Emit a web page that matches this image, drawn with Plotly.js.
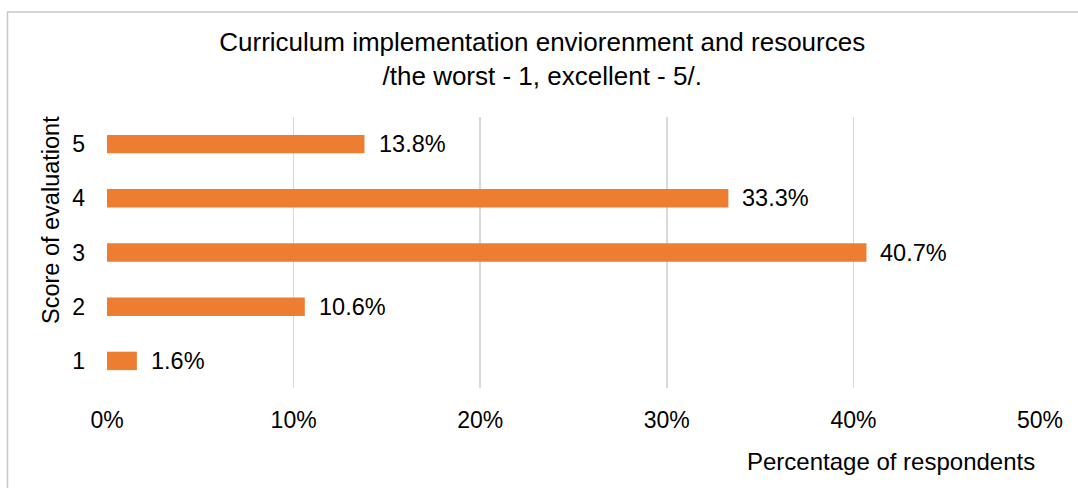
<!DOCTYPE html>
<html>
<head>
<meta charset="utf-8">
<script src="https://cdn.plot.ly/plotly-3.0.1.min.js"></script>
<style>html,body{margin:0;padding:0;background:#fff;}#chart{width:1078px;height:488px;}</style>
</head>
<body>
<div id="chart"></div>
<script>
const categories = ['1', '2', '3', '4', '5'];
const values = [1.6, 10.6, 40.7, 33.3, 13.8];
const valueLabels = ['1.6%', '10.6%', '40.7%', '33.3%', '13.8%'];
const xTickValues = [0, 10, 20, 30, 40, 50];
const xTickLabels = ['0%', '10%', '20%', '30%', '40%', '50%'];

const FONT = 'Liberation Sans, Arial, sans-serif';
const W = 1078, H = 488;
const margin = {l: 107, r: 38, t: 117, b: 100};
const pw = W - margin.l - margin.r, ph = H - margin.t - margin.b;
const px = v => (v - margin.l) / pw;
const py = v => 1 - (v - margin.t) / ph;

const trace = {
  type: 'bar',
  orientation: 'h',
  y: categories,
  x: values,
  marker: {color: '#ED7D31'},
  hoverinfo: 'none'
};

const annotations = values.map((v, i) => ({
  x: v, y: i, xref: 'x', yref: 'y',
  text: valueLabels[i], showarrow: false,
  xanchor: 'left', yanchor: 'middle', xshift: 12,
  font: {family: FONT, size: 23.5, color: '#000'}
}));
annotations.push({
  xref: 'paper', yref: 'paper', x: px(1037), y: py(461),
  xanchor: 'right', yanchor: 'middle',
  text: 'Percentage of respondents', showarrow: false,
  font: {family: FONT, size: 24, color: '#000'}
});
annotations.push({
  xref: 'paper', yref: 'paper', x: px(51), y: py(220),
  xanchor: 'center', yanchor: 'middle', textangle: -90,
  text: 'Score of evaluationt', showarrow: false,
  font: {family: FONT, size: 23.5, color: '#000'}
});

const layout = {
  width: W, height: H,
  margin: margin,
  paper_bgcolor: '#fff', plot_bgcolor: '#fff',
  showlegend: false,
  bargap: 0.66,
  title: {
    text: 'Curriculum implementation enviorenment and resources<br>/the worst - 1, excellent - 5/.',
    font: {family: FONT, size: 26, color: '#000'},
    x: 0.503, xref: 'container', xanchor: 'center',
    y: 1 - 51 / H, yref: 'container', yanchor: 'middle'
  },
  xaxis: {
    range: [0, 50],
    tickvals: xTickValues, ticktext: xTickLabels,
    showgrid: true, gridcolor: '#d9d9d9', gridwidth: 1.5,
    zeroline: false, showline: false,
    ticks: '', ticklabelstandoff: 16,
    tickfont: {family: FONT, size: 23, color: '#000'},
    fixedrange: true
  },
  yaxis: {
    type: 'category',
    categoryorder: 'array', categoryarray: categories,
    range: [-0.5, 4.5],
    showgrid: false, zeroline: false, showline: false,
    ticks: '', ticklabelstandoff: 21,
    tickfont: {family: FONT, size: 23, color: '#000'},
    fixedrange: true
  },
  annotations: annotations,
  shapes: [{
    type: 'rect', xref: 'paper', yref: 'paper',
    x0: px(7.5), x1: px(1090), y0: py(12), y1: py(500),
    line: {color: '#c8c8c8', width: 1.5}, fillcolor: 'rgba(0,0,0,0)', layer: 'below'
  }]
};

Plotly.newPlot('chart', [trace], layout, {staticPlot: true, displayModeBar: false});
</script>
</body>
</html>
